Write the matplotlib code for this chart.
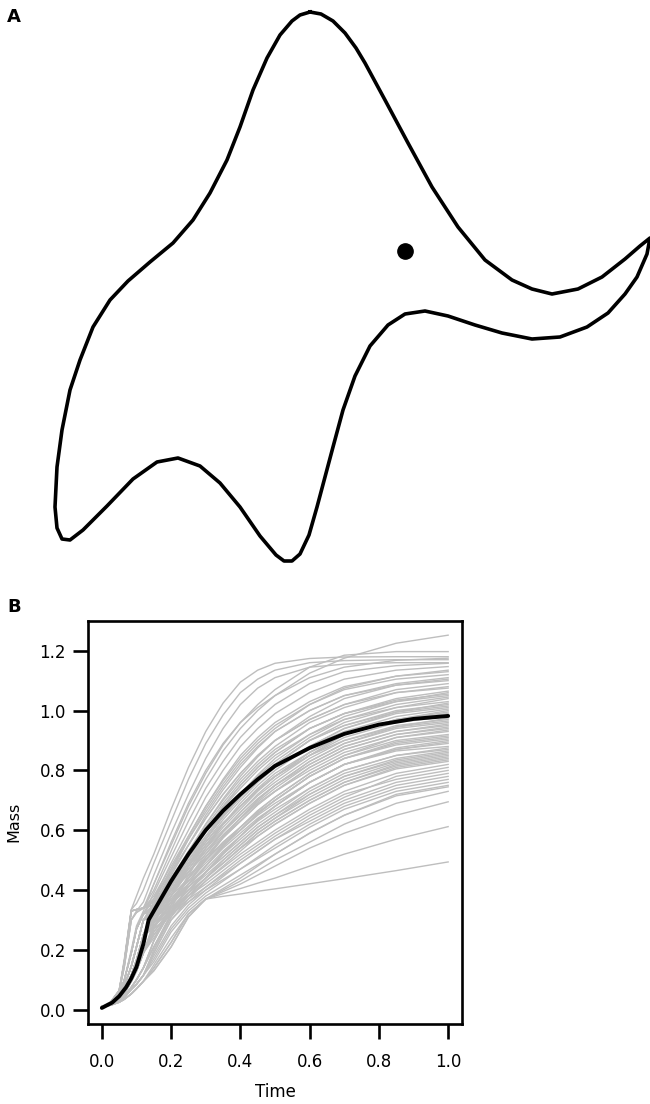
import matplotlib
matplotlib.use("Agg")
import matplotlib.pyplot as plt

plt.rcParams["font.family"] = ["DejaVu Sans"]

W, H = 650, 1104  # output size in pixels

# ---- panel A: outline (pixel units, y pointing down)
outline_x = [310, 321, 333, 345, 356, 365, 385, 408, 432, 458, 485, 512, 532, 552,
             578, 602, 625, 640, 650, 647, 637, 625, 608, 587, 560, 532, 502, 475,
             448, 425, 405, 388, 370, 355, 343, 333, 325, 317, 309, 300, 292, 284,
             276, 260, 240, 220, 200, 178, 157, 133, 107, 83, 70, 62, 57, 55, 57,
             62, 70, 80, 93, 110, 128, 150, 173, 193, 210, 227, 240, 253, 267, 280,
             292, 300, 310]
outline_y = [12, 14, 21, 33, 48, 63, 100, 143, 187, 227, 260, 280, 289, 294,
             289, 277, 259, 246, 238, 254, 277, 294, 313, 327, 337, 339, 333, 325,
             316, 311, 314, 325, 346, 376, 410, 447, 477, 507, 535, 554, 561, 561,
             555, 536, 507, 483, 466, 458, 462, 479, 506, 530, 540, 539, 528, 507, 467,
             430, 390, 360, 327, 300, 281, 262, 243, 220, 193, 160, 127, 90, 58, 35,
             21, 15, 12]
eye_x, eye_y = 405, 251

# ---- panel B: mass trajectories
time = [0, 0.025, 0.05, 0.065, 0.085, 0.1, 0.12,
        0.15, 0.2, 0.25, 0.3, 0.35, 0.4, 0.45, 0.5, 0.6, 0.7, 0.85, 1.0]

# early (pre-switch) part of each trajectory, t = 0 .. 0.12
early = {
    "top":  [0.01, 0.025, 0.065, 0.17, 0.335, 0.38, 0.44],
    "top2": [0.01, 0.025, 0.065, 0.165, 0.335, 0.355, 0.40],
    "f":    [0.01, 0.025, 0.063, 0.16, 0.33, 0.335, 0.34],
    "f2":   [0.01, 0.024, 0.06, 0.145, 0.30, 0.325, 0.34],
    "f3":   [0.01, 0.024, 0.06, 0.145, 0.30, 0.33, 0.36],
    "m1":   [0.01, 0.022, 0.05, 0.10, 0.19, 0.27, 0.32],
    "m1b":  [0.01, 0.022, 0.05, 0.10, 0.20, 0.28, 0.33],
    "m15":  [0.01, 0.02, 0.045, 0.08, 0.145, 0.21, 0.30],
    "m2":   [0.01, 0.019, 0.04, 0.065, 0.115, 0.165, 0.25],
    "s1":   [0.01, 0.018, 0.035, 0.055, 0.095, 0.13, 0.19],
    "s2":   [0.01, 0.017, 0.03, 0.045, 0.075, 0.10, 0.14],
    "s3":   [0.01, 0.016, 0.03, 0.042, 0.068, 0.085, 0.115],
    "vs":   [0.01, 0.015, 0.025, 0.035, 0.053, 0.07, 0.095],
}

# later part, t = 0.15 .. 1.0
late = [
    ("top",  [0.52, 0.67, 0.81, 0.93, 1.025, 1.095, 1.135, 1.158, 1.174, 1.179, 1.18, 1.18]),
    ("top2", [0.49, 0.63, 0.77, 0.89, 0.985, 1.06, 1.105, 1.135, 1.16, 1.167, 1.17, 1.17]),
    ("f3",   [0.45, 0.59, 0.72, 0.84, 0.94, 1.02, 1.075, 1.11, 1.145, 1.155, 1.16, 1.16]),
    ("f2",   [0.42, 0.55, 0.68, 0.79, 0.885, 0.96, 1.02, 1.07, 1.145, 1.185, 1.197, 1.197]),
    ("m1b",  [0.42, 0.56, 0.69, 0.80, 0.89, 0.96, 1.01, 1.05, 1.125, 1.175, 1.225, 1.252]),
    ("f2",   [0.40, 0.53, 0.66, 0.77, 0.865, 0.94, 1.00, 1.05, 1.11, 1.145, 1.168, 1.175]),
    ("m1",   [0.39, 0.51, 0.63, 0.74, 0.83, 0.91, 0.97, 1.02, 1.09, 1.13, 1.15, 1.158]),
    ("m1",   [0.37, 0.49, 0.60, 0.71, 0.80, 0.88, 0.94, 0.99, 1.06, 1.105, 1.135, 1.147]),
    ("m15",  [0.36, 0.47, 0.58, 0.68, 0.77, 0.85, 0.91, 0.96, 1.03, 1.08, 1.115, 1.13]),
    ("f",    [0.38, 0.48, 0.58, 0.68, 0.765, 0.84, 0.90, 0.95, 1.02, 1.07, 1.105, 1.12]),
    ("m2",   [0.34, 0.45, 0.55, 0.65, 0.735, 0.81, 0.875, 0.93, 1.00, 1.05, 1.09, 1.11]),
    ("m1",   [0.37, 0.47, 0.57, 0.66, 0.745, 0.82, 0.88, 0.93, 1.00, 1.05, 1.085, 1.10]),
    ("m15",  [0.35, 0.45, 0.55, 0.64, 0.72, 0.79, 0.85, 0.90, 0.97, 1.02, 1.07, 1.09]),
    ("m2",   [0.33, 0.43, 0.53, 0.62, 0.70, 0.77, 0.83, 0.88, 0.96, 1.01, 1.06, 1.08]),
    ("f",    [0.37, 0.46, 0.55, 0.64, 0.72, 0.79, 0.85, 0.90, 0.97, 1.02, 1.06, 1.075]),
    ("m2",   [0.33, 0.42, 0.51, 0.60, 0.68, 0.75, 0.81, 0.86, 0.94, 0.99, 1.04, 1.065]),
    ("s1",   [0.27, 0.38, 0.48, 0.57, 0.65, 0.72, 0.785, 0.84, 0.92, 0.98, 1.03, 1.06]),
    ("m1",   [0.35, 0.44, 0.53, 0.61, 0.69, 0.76, 0.82, 0.87, 0.94, 0.99, 1.03, 1.05]),
    ("m15",  [0.33, 0.42, 0.50, 0.58, 0.655, 0.72, 0.78, 0.83, 0.91, 0.97, 1.02, 1.045]),
    ("m2",   [0.31, 0.40, 0.49, 0.57, 0.645, 0.71, 0.77, 0.82, 0.90, 0.96, 1.01, 1.04]),
    ("f",    [0.36, 0.44, 0.52, 0.60, 0.675, 0.74, 0.80, 0.85, 0.92, 0.97, 1.01, 1.03]),
    ("s2",   [0.23, 0.35, 0.45, 0.54, 0.62, 0.69, 0.75, 0.80, 0.88, 0.94, 0.995, 1.025]),
    ("m15",  [0.33, 0.41, 0.49, 0.57, 0.645, 0.71, 0.77, 0.82, 0.90, 0.95, 1.00, 1.02]),
    ("m2",   [0.32, 0.40, 0.48, 0.56, 0.635, 0.70, 0.76, 0.81, 0.88, 0.94, 0.99, 1.01]),
    ("m1",   [0.34, 0.42, 0.50, 0.57, 0.645, 0.71, 0.765, 0.81, 0.88, 0.93, 0.98, 1.005]),
    ("s1",   [0.29, 0.38, 0.46, 0.54, 0.61, 0.67, 0.73, 0.78, 0.86, 0.92, 0.97, 0.995]),
    ("m2",   [0.31, 0.39, 0.47, 0.55, 0.62, 0.68, 0.74, 0.79, 0.86, 0.92, 0.97, 0.99]),
    ("m15",  [0.33, 0.40, 0.48, 0.55, 0.62, 0.68, 0.735, 0.78, 0.85, 0.91, 0.96, 0.98]),
    ("s2",   [0.21, 0.32, 0.42, 0.50, 0.575, 0.64, 0.70, 0.75, 0.83, 0.89, 0.945, 0.975]),
    ("f",    [0.35, 0.42, 0.49, 0.56, 0.625, 0.68, 0.735, 0.78, 0.85, 0.90, 0.95, 0.97]),
    ("m2",   [0.31, 0.38, 0.46, 0.53, 0.595, 0.65, 0.705, 0.75, 0.83, 0.89, 0.94, 0.96]),
    ("s1",   [0.27, 0.36, 0.44, 0.51, 0.58, 0.64, 0.695, 0.74, 0.82, 0.88, 0.93, 0.955]),
    ("m15",  [0.32, 0.39, 0.46, 0.53, 0.595, 0.65, 0.705, 0.75, 0.82, 0.88, 0.93, 0.95]),
    ("m2",   [0.30, 0.37, 0.44, 0.51, 0.575, 0.63, 0.685, 0.73, 0.81, 0.87, 0.92, 0.94]),
    ("s2",   [0.23, 0.33, 0.41, 0.48, 0.55, 0.61, 0.665, 0.71, 0.79, 0.85, 0.91, 0.935]),
    ("m1",   [0.34, 0.40, 0.46, 0.52, 0.585, 0.64, 0.69, 0.73, 0.80, 0.86, 0.91, 0.93]),
    ("m2",   [0.30, 0.37, 0.43, 0.50, 0.56, 0.61, 0.665, 0.71, 0.79, 0.85, 0.90, 0.92]),
    ("s1",   [0.28, 0.35, 0.42, 0.48, 0.545, 0.60, 0.655, 0.70, 0.78, 0.84, 0.89, 0.91]),
    ("m15",  [0.32, 0.38, 0.44, 0.50, 0.56, 0.61, 0.66, 0.70, 0.78, 0.84, 0.885, 0.905]),
    ("s3",   [0.20, 0.31, 0.39, 0.46, 0.525, 0.58, 0.635, 0.68, 0.76, 0.82, 0.875, 0.90]),
    ("m2",   [0.30, 0.36, 0.42, 0.48, 0.54, 0.59, 0.64, 0.68, 0.76, 0.82, 0.87, 0.89]),
    ("f",    [0.35, 0.40, 0.45, 0.50, 0.555, 0.60, 0.65, 0.69, 0.76, 0.82, 0.865, 0.88]),
    ("s1",   [0.26, 0.34, 0.40, 0.46, 0.52, 0.57, 0.62, 0.66, 0.74, 0.80, 0.85, 0.875]),
    ("m2",   [0.30, 0.36, 0.42, 0.47, 0.53, 0.58, 0.63, 0.67, 0.74, 0.80, 0.85, 0.87]),
    ("s2",   [0.21, 0.31, 0.38, 0.44, 0.50, 0.55, 0.60, 0.64, 0.72, 0.78, 0.835, 0.86]),
    ("m15",  [0.31, 0.36, 0.41, 0.46, 0.51, 0.56, 0.61, 0.65, 0.72, 0.78, 0.83, 0.855]),
    ("m2",   [0.28, 0.34, 0.40, 0.45, 0.50, 0.55, 0.60, 0.64, 0.71, 0.77, 0.825, 0.85]),
    ("s1",   [0.25, 0.33, 0.39, 0.44, 0.49, 0.54, 0.59, 0.63, 0.70, 0.76, 0.815, 0.84]),
    ("s3",   [0.19, 0.30, 0.37, 0.43, 0.48, 0.53, 0.58, 0.62, 0.69, 0.75, 0.81, 0.835]),
    ("m2",   [0.29, 0.34, 0.39, 0.44, 0.49, 0.54, 0.58, 0.62, 0.69, 0.75, 0.805, 0.83]),
    ("s1",   [0.26, 0.33, 0.38, 0.43, 0.475, 0.52, 0.56, 0.60, 0.67, 0.73, 0.79, 0.82]),
    ("s3",   [0.19, 0.30, 0.36, 0.41, 0.455, 0.50, 0.54, 0.58, 0.65, 0.71, 0.78, 0.81]),
    ("m2",   [0.28, 0.33, 0.38, 0.42, 0.465, 0.51, 0.55, 0.59, 0.66, 0.72, 0.77, 0.80]),
    ("s3",   [0.18, 0.28, 0.35, 0.40, 0.445, 0.49, 0.53, 0.57, 0.64, 0.70, 0.76, 0.79]),
    ("s1",   [0.25, 0.32, 0.37, 0.41, 0.45, 0.49, 0.53, 0.57, 0.63, 0.69, 0.75, 0.78]),
    ("s3",   [0.17, 0.27, 0.34, 0.39, 0.43, 0.47, 0.51, 0.55, 0.62, 0.68, 0.74, 0.77]),
    ("m2",   [0.27, 0.32, 0.36, 0.40, 0.435, 0.47, 0.505, 0.54, 0.61, 0.67, 0.73, 0.76]),
    ("s3",   [0.16, 0.26, 0.33, 0.38, 0.415, 0.45, 0.485, 0.52, 0.59, 0.65, 0.715, 0.745]),
    ("vs",   [0.14, 0.225, 0.32, 0.37, 0.40, 0.43, 0.465, 0.50, 0.56, 0.62, 0.69, 0.73]),
    ("vs",   [0.14, 0.225, 0.32, 0.37, 0.395, 0.42, 0.45, 0.48, 0.54, 0.59, 0.65, 0.695]),
    ("vs",   [0.13, 0.21, 0.31, 0.37, 0.388, 0.405, 0.423, 0.44, 0.48, 0.52, 0.57, 0.612]),
    ("vs",   [0.13, 0.21, 0.31, 0.37, 0.379, 0.387, 0.396, 0.404, 0.421, 0.438, 0.465, 0.494]),
    ("vs",   [0.15, 0.24, 0.32, 0.37, 0.405, 0.44, 0.48, 0.52, 0.59, 0.65, 0.72, 0.75]),
    ("m2",   [0.35, 0.46, 0.57, 0.67, 0.755, 0.83, 0.89, 0.94, 1.02, 1.075, 1.115, 1.135]),
    ("s1",   [0.29, 0.41, 0.52, 0.62, 0.705, 0.78, 0.845, 0.90, 0.98, 1.04, 1.085, 1.105]),
    ("m15",  [0.34, 0.43, 0.52, 0.60, 0.68, 0.75, 0.81, 0.86, 0.94, 0.99, 1.035, 1.055]),
    ("s2",   [0.23, 0.34, 0.44, 0.52, 0.595, 0.66, 0.72, 0.77, 0.85, 0.92, 0.97, 1.00]),
    ("m1",   [0.33, 0.40, 0.47, 0.54, 0.60, 0.66, 0.715, 0.76, 0.84, 0.90, 0.945, 0.965]),
    ("s1",   [0.28, 0.36, 0.44, 0.51, 0.575, 0.63, 0.685, 0.73, 0.81, 0.87, 0.92, 0.945]),
    ("m15",  [0.31, 0.37, 0.43, 0.49, 0.55, 0.60, 0.655, 0.70, 0.78, 0.84, 0.895, 0.915]),
    ("s2",   [0.21, 0.32, 0.39, 0.46, 0.52, 0.58, 0.635, 0.68, 0.76, 0.82, 0.87, 0.895]),
    ("m2",   [0.29, 0.35, 0.41, 0.46, 0.51, 0.56, 0.61, 0.65, 0.73, 0.79, 0.84, 0.865]),
    ("s1",   [0.24, 0.33, 0.39, 0.44, 0.49, 0.54, 0.59, 0.63, 0.70, 0.76, 0.82, 0.845]),
    ("f",    [0.36, 0.43, 0.51, 0.58, 0.655, 0.72, 0.775, 0.82, 0.90, 0.95, 0.995, 1.015]),
    ("m2",   [0.32, 0.40, 0.48, 0.55, 0.62, 0.68, 0.735, 0.78, 0.86, 0.92, 0.965, 0.985]),
]

mean_time = [0, 0.03, 0.05, 0.07, 0.085, 0.1, 0.12, 0.135, 0.2, 0.25, 0.3, 0.35, 0.4,
             0.45, 0.5, 0.6, 0.7, 0.8, 0.9, 1.0]
mean_mass = [0.006, 0.024, 0.045, 0.075, 0.105, 0.143, 0.22, 0.30, 0.43, 0.52, 0.60,
             0.665, 0.72, 0.77, 0.815, 0.875, 0.922, 0.953, 0.972, 0.982]
x_ticks = [0.0, 0.2, 0.4, 0.6, 0.8, 1.0]
y_ticks = [0.0, 0.2, 0.4, 0.6, 0.8, 1.0, 1.2]

fig = plt.figure(figsize=(W / 100, H / 100), dpi=100)

# panel A
ax_a = fig.add_axes([0, 1 - 580 / H, 1, 580 / H])
ax_a.plot(outline_x, outline_y, color="black", lw=2.6, solid_joinstyle="round")
ax_a.plot([eye_x], [eye_y], "o", color="black", ms=11)
ax_a.set_xlim(0, W)
ax_a.set_ylim(580, 0)
ax_a.axis("off")

# panel B
left, right, top, bottom = 88, 462, 620.5, 1023.5
ax_b = fig.add_axes([left / W, 1 - bottom / H, (right - left) / W, (bottom - top) / H])
for kind, tail in late:
    ax_b.plot(time, early[kind] + tail, color="#BEBEBE", lw=1.0)
ax_b.plot(mean_time, mean_mass, color="black", lw=2.8, solid_capstyle="round")
ax_b.set_xlim(-0.04, 1.04)
ax_b.set_ylim(-0.046, 1.301)
ax_b.set_xticks(x_ticks)
ax_b.set_xticklabels([f"{v:.1f}" for v in x_ticks])
ax_b.set_yticks(y_ticks)
ax_b.set_yticklabels([f"{v:.1f}" for v in y_ticks])
ax_b.tick_params(direction="out", length=11, width=1.9, labelsize=12)
ax_b.tick_params(axis="x", pad=10)
ax_b.tick_params(axis="y", pad=5)
for s in ax_b.spines.values():
    s.set_linewidth(1.9)

fig.text(275 / W, 1 - 1092 / H, "Time", ha="center", va="center", fontsize=12)
fig.text(14 / W, 1 - 822 / H, "Mass", ha="center", va="center", fontsize=11.5,
         rotation=90)
fig.text(14 / W, 1 - 17.5 / H, "A", ha="center", va="center", fontsize=13,
         fontweight="bold")
fig.text(14 / W, 1 - 607.5 / H, "B", ha="center", va="center", fontsize=13,
         fontweight="bold")

fig.savefig("out.png", dpi=100)
